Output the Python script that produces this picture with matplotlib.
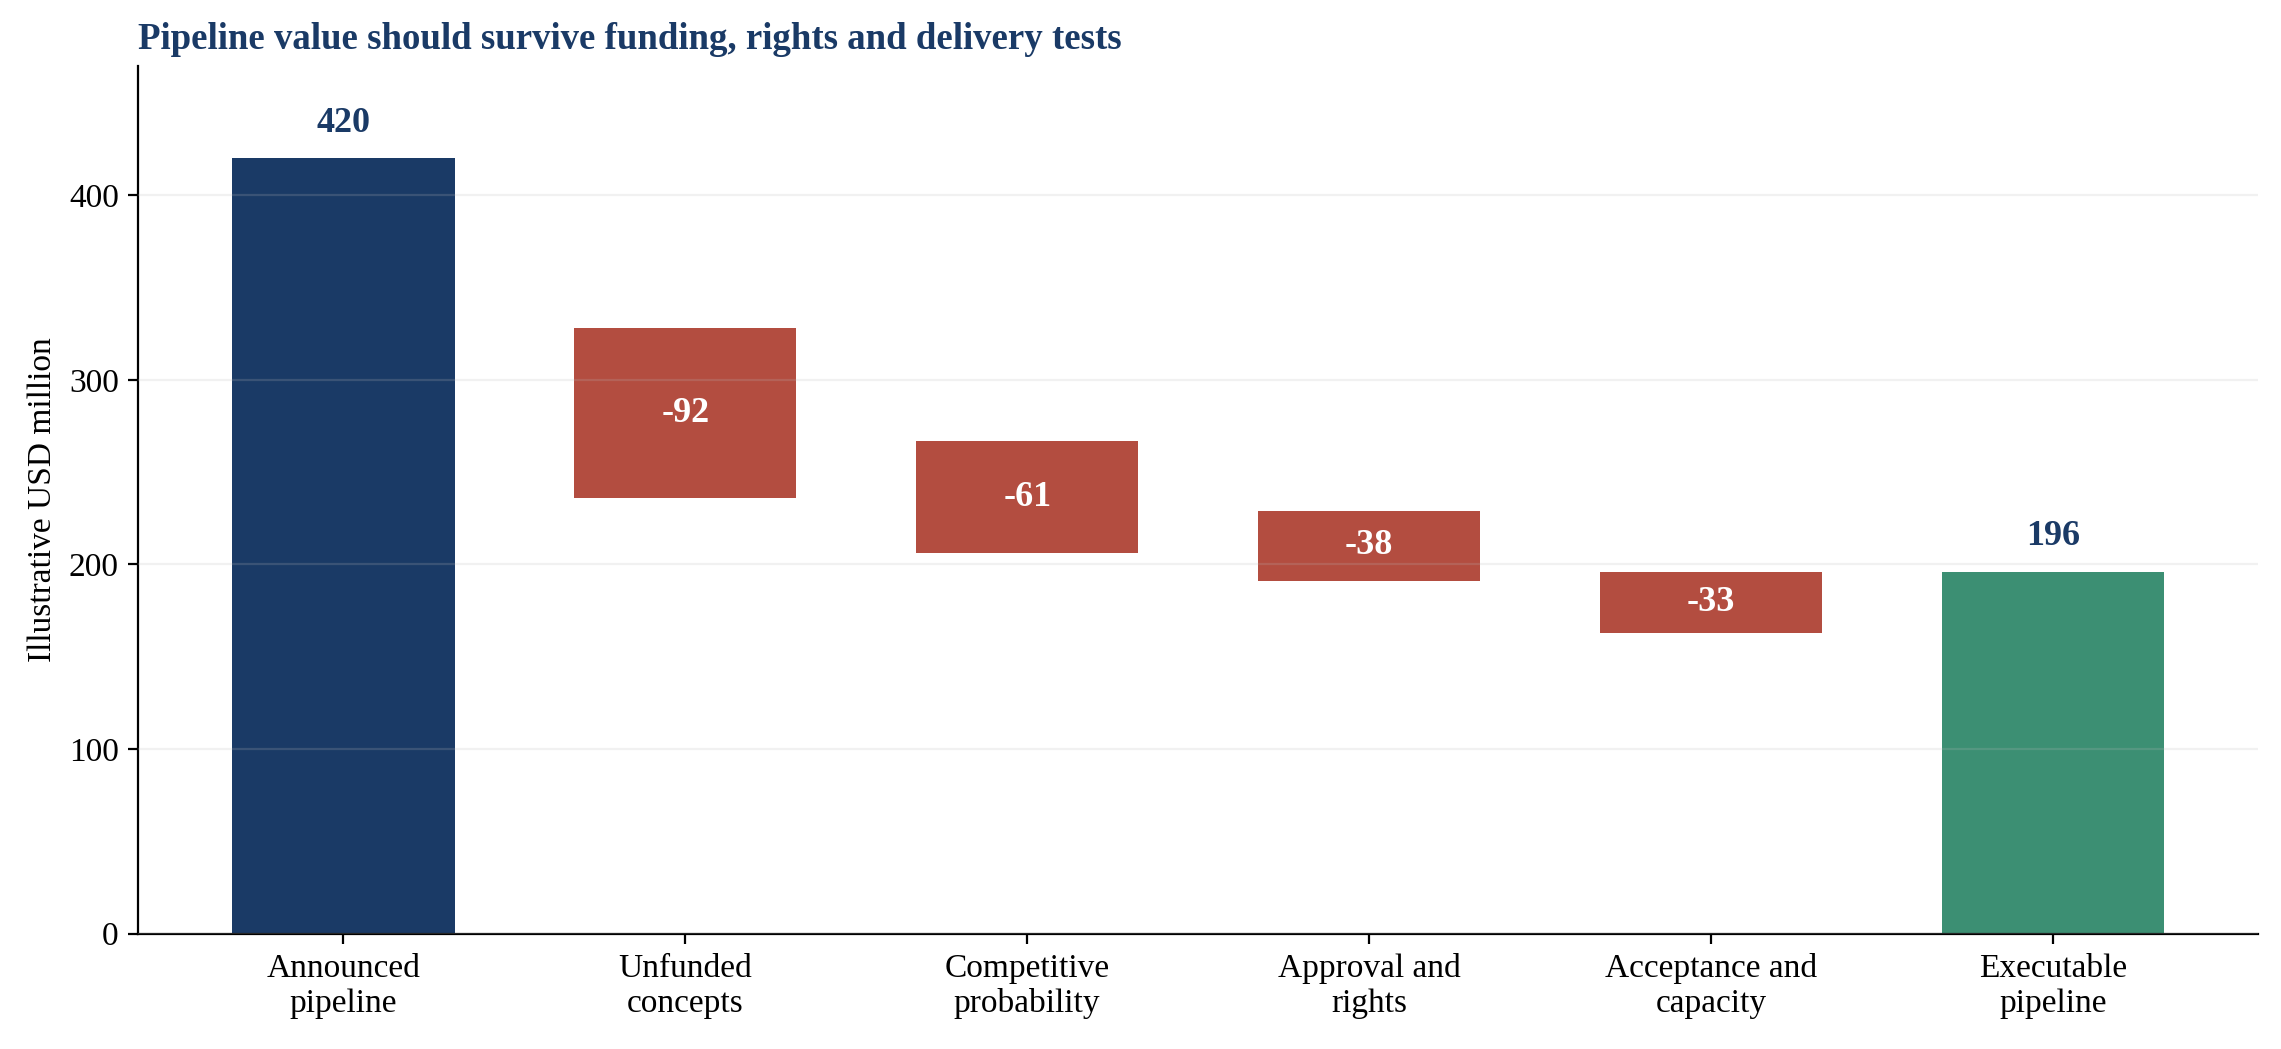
import numpy as np
import matplotlib.pyplot as plt

categories = ["Announced\npipeline", "Unfunded\nconcepts", "Competitive\nprobability",
              "Approval and\nrights", "Acceptance and\ncapacity", "Executable\npipeline"]
start_value = 420
deductions = [-92, -61, -38, -33]
end_value = 196

navy = "#1a3a66"
red = "#b34d40"
green = "#3c8f73"

plt.rcParams['font.family'] = ['Liberation Serif', 'DejaVu Serif']

fig, ax = plt.subplots(figsize=(11.405, 5.245), dpi=200)
x = np.arange(len(categories))
width = 0.65

# totals
ax.bar(x[0], start_value, width, color=navy, linewidth=0, zorder=1)
ax.text(x[0], start_value + 10, f"{start_value}", ha='center', va='bottom',
        fontsize=13, fontweight='bold', color=navy)

# deduction bars hang below the running level after each step
level = start_value
for i, d in enumerate(deductions, start=1):
    level = level + d
    bottom = level + d
    ax.bar(x[i], -d, width, bottom=bottom, color=red, linewidth=0, zorder=1)
    ax.text(x[i], bottom - d / 2, f"{d}", ha='center', va='center',
            fontsize=13, fontweight='bold', color='white', zorder=3)

ax.bar(x[-1], end_value, width, color=green, linewidth=0, zorder=1)
ax.text(x[-1], end_value + 10, f"{end_value}", ha='center', va='bottom',
        fontsize=13, fontweight='bold', color=navy)

ax.set_xticks(x)
ax.set_xticklabels(categories, fontsize=12)
ax.tick_params(axis='y', labelsize=12)
ax.set_xlim(-0.6, 5.6)
ax.set_ylim(0, 470)
ax.set_yticks([0, 100, 200, 300, 400])
ax.set_ylabel("Illustrative USD million", fontsize=12)
ax.yaxis.grid(True, color='#bbbbbb', linewidth=0.8, alpha=0.2, zorder=2)
ax.set_axisbelow(False)
for s in ['top', 'right']:
    ax.spines[s].set_visible(False)

ax.set_title("Pipeline value should survive funding, rights and delivery tests",
             loc='left', fontsize=13.3, fontweight='bold', color=navy, pad=6)

fig.subplots_adjust(left=0.0606, right=0.99, top=0.937, bottom=0.11)
fig.savefig("out.png", dpi=200)
